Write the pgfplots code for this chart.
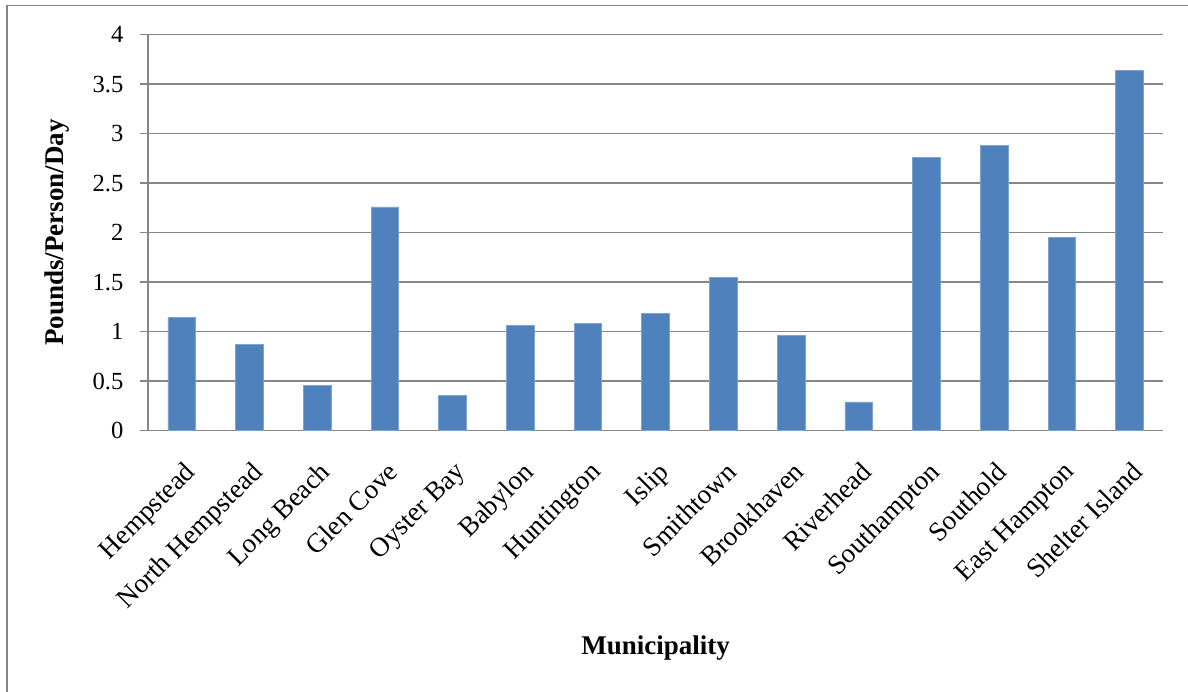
\documentclass[border=0pt]{standalone}
\usepackage{fontspec}
\setmainfont{Liberation Serif}
\usepackage{pgfplots}
\pgfplotsset{compat=1.18}
\definecolor{barblue}{HTML}{4F81BD}
\definecolor{baredge}{HTML}{7FA3D1}
\definecolor{axisgray}{HTML}{868686}

\begin{document}
\begin{tikzpicture}
\useasboundingbox (-74bp,-130.65bp) rectangle (520bp,215.35bp);
% outer frame (top and left edges)
\draw[axisgray, line width=0.8bp] (-70.6bp,-132bp) -- (-70.6bp,212.6bp) -- (522bp,212.6bp);
\begin{axis}[
  at={(0,0)}, anchor=south west,
  scale only axis, width=507.7bp, height=198bp,
  xmin=-0.5, xmax=14.5, ymin=0, ymax=4,
  ybar, bar width=13.85bp,
  axis lines*=left,
  axis line style={axisgray, line width=0.75bp},
  ymajorgrids, grid style={axisgray, line width=0.75bp},
  tick align=outside,
  ytick={0,0.5,1,1.5,2,2.5,3,3.5,4},
  yticklabels={0,0.5,1,1.5,2,2.5,3,3.5,4},
  % category boundaries carry the tick marks
  xtick=\empty,
  minor xtick={-0.5,0.5,...,14.5},
  % category names sit at the bar centres
  extra x ticks={0,...,14},
  extra x tick labels={Hempstead,North Hempstead,Long Beach,Glen Cove,Oyster Bay,Babylon,Huntington,Islip,Smithtown,Brookhaven,Riverhead,Southampton,Southold,East Hampton,Shelter Island},
  extra x tick style={major tick length=0pt, xmajorgrids=false,
    xticklabel style={font=\fontsize{13.6bp}{16bp}\selectfont,
      xshift=0.5bp, yshift=-14.5bp, rotate=45, anchor=north east, inner sep=0pt}},
  major tick length=3.8bp, minor tick length=3.8bp,
  every tick/.style={axisgray, line width=0.75bp},
  tick label style={font=\fontsize{12.3bp}{14bp}\selectfont, black},
  yticklabel style={xshift=-5bp},
  xlabel={Municipality},
  ylabel={Pounds/Person/Day},
  every axis x label/.append style={at={(axis description cs:0.5,-0.5487)}, anchor=center,
    font=\bfseries\fontsize{13.5bp}{16bp}\selectfont},
  every axis y label/.append style={at={(axis description cs:-0.0896,0.5)}, anchor=center, rotate=0,
    font=\bfseries\fontsize{13.5bp}{16bp}\selectfont},
]
\addplot[fill=barblue, draw=baredge, line width=0.4bp] coordinates {
  (0,1.14) (1,0.87) (2,0.46) (3,2.26) (4,0.36)
  (5,1.06) (6,1.08) (7,1.18) (8,1.55) (9,0.96)
  (10,0.29) (11,2.76) (12,2.88) (13,1.95) (14,3.64)
};
\end{axis}
\end{tikzpicture}
\end{document}
